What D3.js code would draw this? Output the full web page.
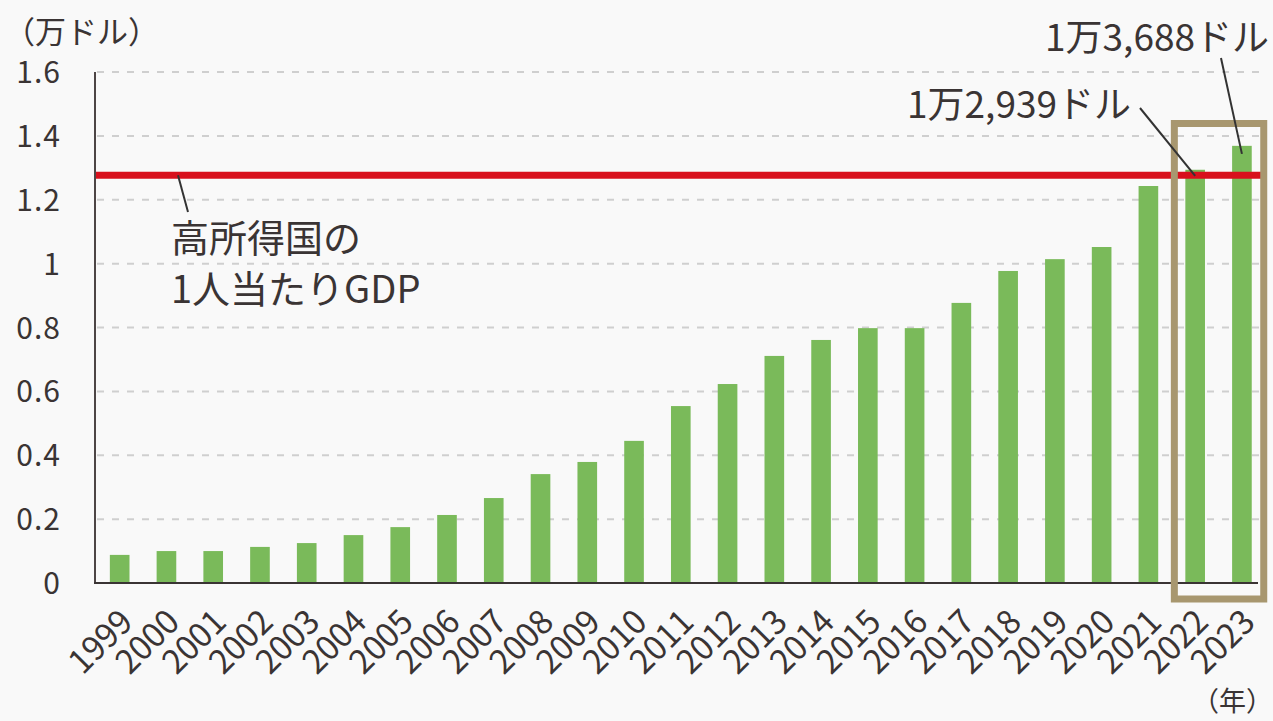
<!DOCTYPE html>
<html lang="ja">
<head>
  <meta charset="UTF-8" />
  <title>1人当たりGDP</title>
  <style>
  html, body {
    margin: 0;
    padding: 0;
    background: #f9f9f9;
  }
  svg {
    display: block;
    font-family: "Noto Sans CJK JP", "Noto Sans", sans-serif;
  }
  </style>
  <script src="https://d3js.org/d3.v7.min.js"></script>
</head>
<body>
  <div id="chart"></div>
  <script>
    // Data (1人当たりGDP, 万ドル)
    const years = ["1999", "2000", "2001", "2002", "2003", "2004", "2005", "2006", "2007", "2008",
      "2009", "2010", "2011", "2012", "2013", "2014", "2015", "2016", "2017", "2018",
      "2019", "2020", "2021", "2022", "2023"];
    const values = [0.088, 0.10, 0.10, 0.113, 0.125, 0.15, 0.175, 0.213, 0.266, 0.341,
      0.379, 0.445, 0.554, 0.623, 0.711, 0.761, 0.798, 0.798, 0.877, 0.977,
      1.014, 1.052, 1.243, 1.2939, 1.3688];
    const yTicks = [0, 0.2, 0.4, 0.6, 0.8, 1, 1.2, 1.4, 1.6];
    const highIncome = 1.277;
    const highlightYears = ["2022", "2023"];
    const callouts = [
      { year: "2022", text: "1万2,939ドル" },
      { year: "2023", text: "1万3,688ドル" }
    ];

    const width = 1273;
    const height = 721;
    const textColor = "#3a3434";

    const svg = d3.select("#chart").append("svg")
      .attr("width", width)
      .attr("height", height);

    const x = d3.scaleBand()
      .domain(years)
      .range([96.3, 1265.3])
      .paddingInner(0.58)
      .paddingOuter(0.29);

    const y = d3.scaleLinear()
      .domain([0, 1.6])
      .range([583, 72]);

    // gridlines
    svg.append("g")
      .selectAll("line")
      .data(yTicks.filter(d => d > 0))
      .enter().append("line")
      .attr("x1", 97)
      .attr("x2", 1264)
      .attr("y1", d => y(d))
      .attr("y2", d => y(d))
      .attr("stroke", "#cfcfcf")
      .attr("stroke-width", 2)
      .attr("stroke-dasharray", "7 8");

    // y tick labels
    svg.append("g")
      .selectAll("text")
      .data(yTicks)
      .enter().append("text")
      .attr("x", 61)
      .attr("y", d => y(d) + 11)
      .attr("text-anchor", "end")
      .attr("font-size", 30)
      .attr("letter-spacing", 1)
      .attr("fill", textColor)
      .text(d => d3.format("~g")(d));

    svg.append("text")
      .attr("x", 4)
      .attr("y", 43)
      .attr("font-size", 31)
      .attr("fill", textColor)
      .text("（万ドル）");

    // bars
    svg.append("g")
      .selectAll("rect")
      .data(values)
      .enter().append("rect")
      .attr("x", (d, i) => x(years[i]))
      .attr("y", d => y(d))
      .attr("width", x.bandwidth())
      .attr("height", d => y(0) - y(d))
      .attr("fill", "#7aba5a");

    // high income line
    svg.append("line")
      .attr("x1", 96)
      .attr("x2", 1262)
      .attr("y1", y(highIncome))
      .attr("y2", y(highIncome))
      .attr("stroke", "#d8101c")
      .attr("stroke-width", 7);

    svg.append("line")
      .attr("x1", 178)
      .attr("y1", y(highIncome))
      .attr("x2", 188)
      .attr("y2", 212)
      .attr("stroke", "#333")
      .attr("stroke-width", 2);

    svg.append("text")
      .attr("x", 171)
      .attr("y", 252)
      .attr("font-size", 38)
      .attr("fill", textColor)
      .text("高所得国の");
    svg.append("text")
      .attr("x", 171)
      .attr("y", 303)
      .attr("font-size", 38)
      .attr("fill", textColor)
      .text("1人当たりGDP");

    // axes
    svg.append("line")
      .attr("x1", 95).attr("x2", 95)
      .attr("y1", y(1.6)).attr("y2", y(0))
      .attr("stroke", "#4d4545").attr("stroke-width", 2);
    svg.append("line")
      .attr("x1", 94).attr("x2", 1258)
      .attr("y1", y(0)).attr("y2", y(0))
      .attr("stroke", "#3a3434").attr("stroke-width", 2);

    // x labels
    svg.append("g")
      .selectAll("text")
      .data(years)
      .enter().append("text")
      .attr("transform", d => `translate(${x(d) + x.bandwidth() / 2 + 15},${624}) rotate(-45)`)
      .attr("text-anchor", "end")
      .attr("font-size", 33)
      .attr("fill", textColor)
      .text(d => d);

    svg.append("text")
      .attr("x", 1273)
      .attr("y", 711)
      .attr("text-anchor", "end")
      .attr("font-size", 27)
      .attr("fill", textColor)
      .text("（年）");

    // highlight box
    const hx0 = x(highlightYears[0]) - 11;
    const hx1 = x(highlightYears[1]) + x.bandwidth() + 12;
    svg.append("rect")
      .attr("x", hx0)
      .attr("y", 123.5)
      .attr("width", hx1 - hx0)
      .attr("height", 599 - 123.5)
      .attr("fill", "none")
      .attr("stroke", "#a8976f")
      .attr("stroke-width", 7);

    // callouts
    const c0 = callouts[0], c1 = callouts[1];
    const v0 = values[years.indexOf(c0.year)], v1 = values[years.indexOf(c1.year)];
    svg.append("line")
      .attr("x1", 1140).attr("y1", 108)
      .attr("x2", x(c0.year) + x.bandwidth() / 2).attr("y2", y(v0) + 6)
      .attr("stroke", "#333").attr("stroke-width", 2);
    svg.append("text")
      .attr("x", 1131).attr("y", 118)
      .attr("text-anchor", "end")
      .attr("font-size", 37)
      .attr("fill", textColor)
      .text(c0.text);

    svg.append("line")
      .attr("x1", 1221).attr("y1", 58)
      .attr("x2", x(c1.year) + x.bandwidth() / 2).attr("y2", y(v1) + 8)
      .attr("stroke", "#333").attr("stroke-width", 2);
    svg.append("text")
      .attr("x", 1269).attr("y", 51)
      .attr("text-anchor", "end")
      .attr("font-size", 37)
      .attr("fill", textColor)
      .text(c1.text);
  </script>
</body>
</html>
